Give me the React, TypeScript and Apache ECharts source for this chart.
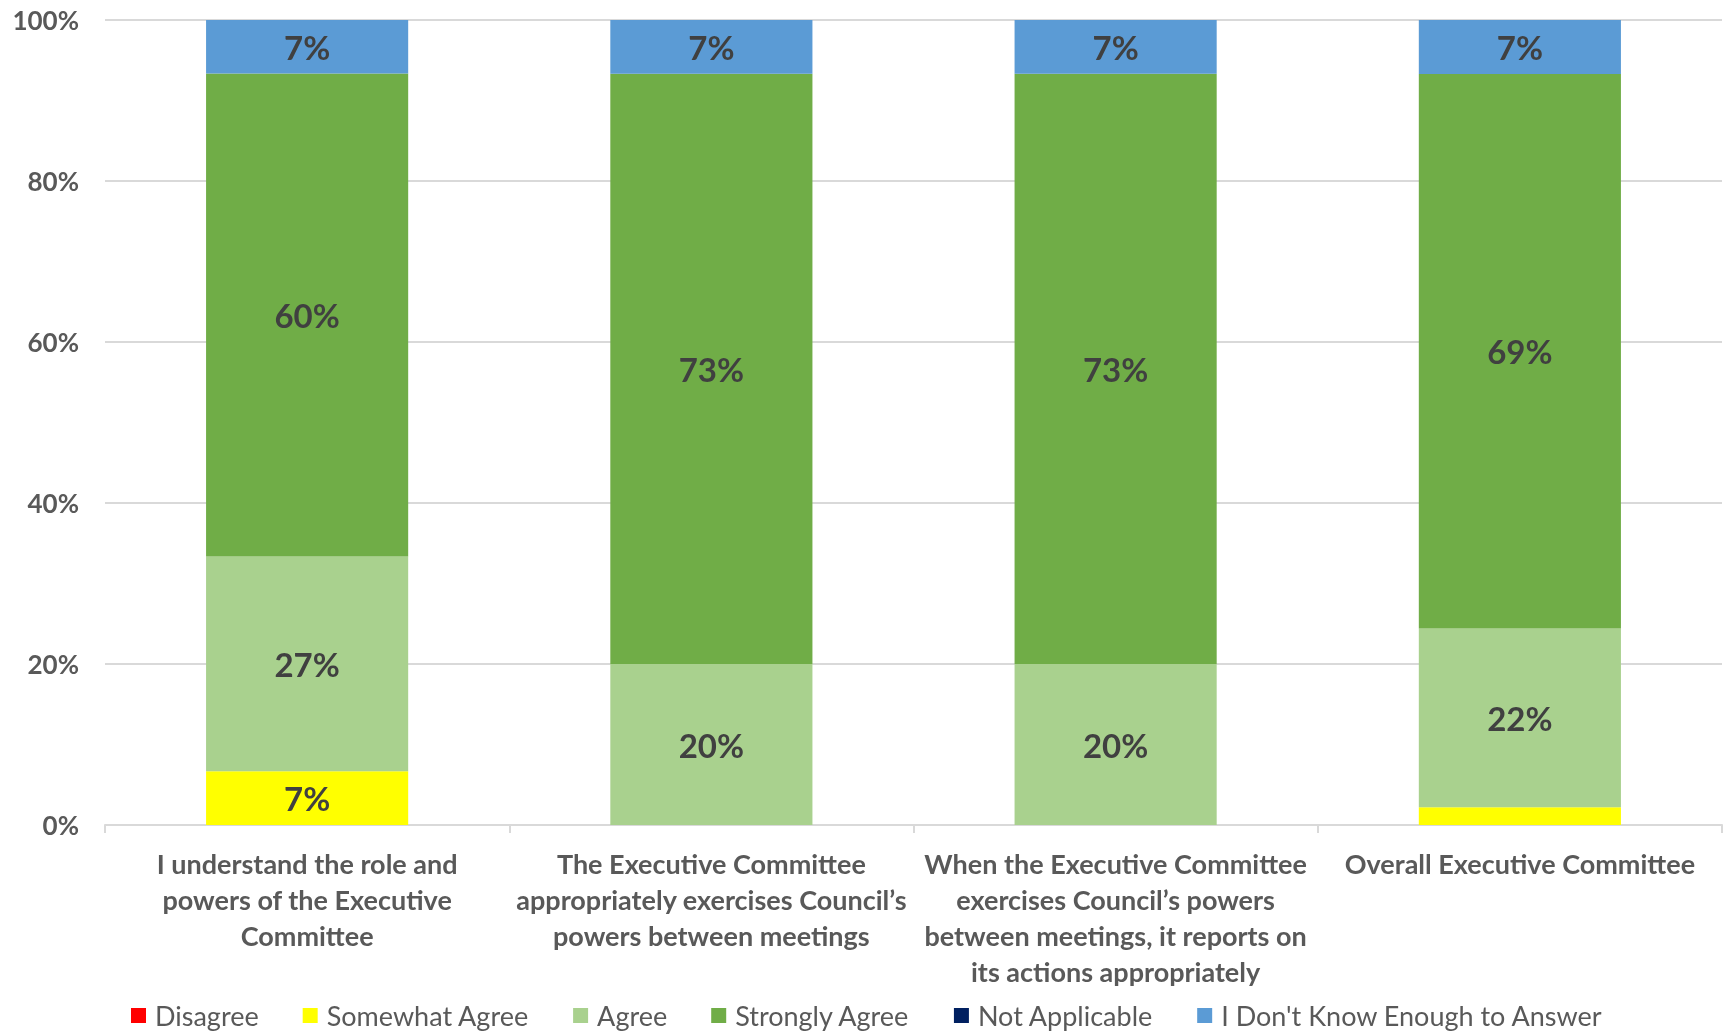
import React, { useEffect, useRef } from "react";
import * as echarts from "echarts";

const categories = [
  "I understand the role and\npowers of the Executive\nCommittee",
  "The Executive Committee\nappropriately exercises Council’s\npowers between meetings",
  "When the Executive Committee\nexercises Council’s powers\nbetween meetings, it reports on\nits actions appropriately",
  "Overall Executive Committee",
];
const disagree = [0, 0, 0, 0];
const somewhatAgree = [6.67, 0, 0, 2.2];
const agree = [26.67, 20, 20, 22.2];
const stronglyAgree = [60, 73.33, 73.33, 68.9];
const notApplicable = [0, 0, 0, 0];
const dontKnow = [6.67, 6.67, 6.67, 6.7];
const yTicks = [0, 20, 40, 60, 80, 100];

const FONT = "Lato";

export default function App() {
  const ref = useRef<HTMLDivElement>(null);
  useEffect(() => {
    if (!ref.current) return;
    const chart = echarts.init(ref.current, null, { renderer: "svg" });
    const mk = (name: string, data: number[], color: string) => ({
      name,
      type: "bar",
      stack: "total",
      data,
      barWidth: "50%",
      itemStyle: { color },
      label: {
        show: true,
        position: "inside",
        fontFamily: FONT,
        fontWeight: "bold",
        fontSize: 33,
        color: "#404040",
        formatter: (p: any) => (p.value >= 3 ? Math.round(p.value) + "%" : ""),
      },
    });
    chart.setOption({
      animation: false,
      textStyle: { fontFamily: FONT },
      grid: { left: 105, right: 3, top: 20, bottom: 209, containLabel: false },
      legend: {
        left: 126,
        top: 997,
        itemWidth: 15,
        itemHeight: 15,
        itemGap: 44,
        icon: "rect",
        textStyle: { fontFamily: FONT, fontSize: 27, color: "#595959", padding: [0, 0, 0, 4] },
        data: [
          "Disagree",
          "Somewhat Agree",
          "Agree",
          "Strongly Agree",
          "Not Applicable",
          "I Don't Know Enough to Answer",
        ],
      },
      xAxis: {
        type: "category",
        data: categories,
        axisLine: { lineStyle: { color: "#D9D9D9", width: 2 } },
        axisTick: { show: true, length: 8, lineStyle: { color: "#D9D9D9", width: 2 } },
        axisLabel: {
          fontFamily: FONT,
          fontWeight: "bold",
          fontSize: 27,
          color: "#595959",
          lineHeight: 36,
          margin: 20,
          interval: 0,
        },
      },
      yAxis: {
        type: "value",
        min: 0,
        max: 100,
        interval: 20,
        axisLine: { show: false },
        axisTick: { show: false },
        splitLine: { lineStyle: { color: "#D9D9D9", width: 2 } },
        axisLabel: {
          fontFamily: FONT,
          fontWeight: "bold",
          fontSize: 26,
          color: "#595959",
          margin: 26,
          formatter: (v: number) => (yTicks.includes(v) ? v + "%" : ""),
        },
      },
      series: [
        mk("Disagree", disagree, "#FF0000"),
        mk("Somewhat Agree", somewhatAgree, "#FFFF00"),
        mk("Agree", agree, "#A9D18E"),
        mk("Strongly Agree", stronglyAgree, "#70AD47"),
        mk("Not Applicable", notApplicable, "#002060"),
        mk("I Don't Know Enough to Answer", dontKnow, "#5B9BD5"),
      ],
    });
    return () => chart.dispose();
  }, []);
  return (
    <div
      ref={ref}
      style={{ position: "fixed", left: 0, top: 0, width: 1725, height: 1034 }}
    />
  );
}
